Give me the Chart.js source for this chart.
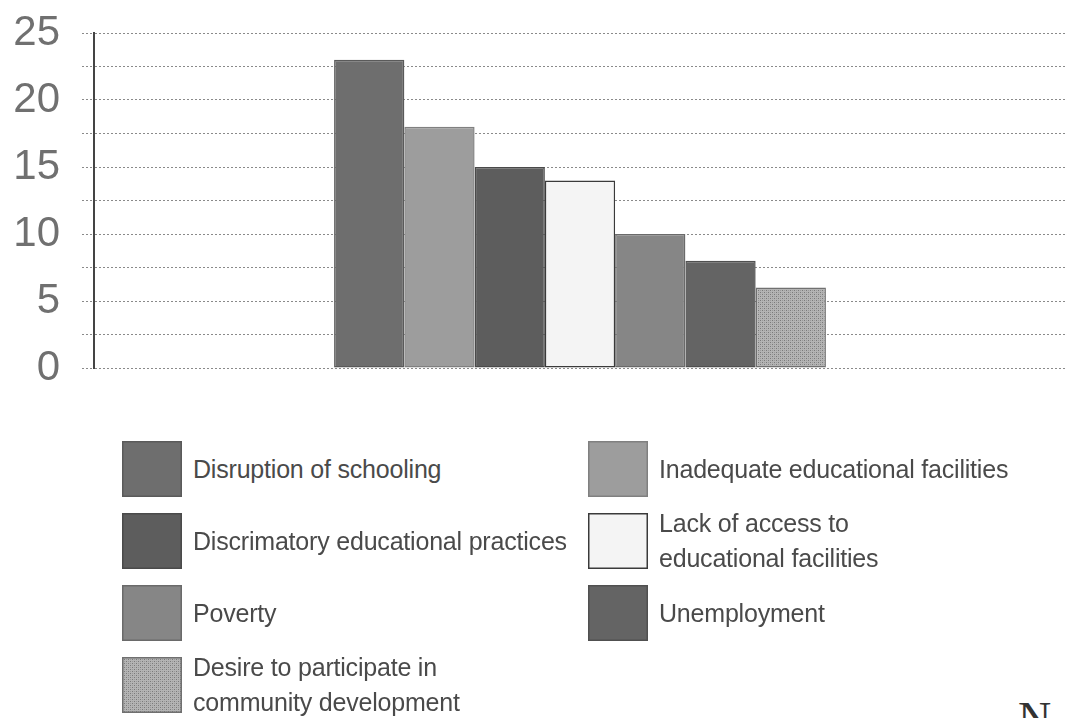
<!DOCTYPE html>
<html>
<head>
<meta charset="utf-8">
<script src="https://cdn.jsdelivr.net/npm/chart.js@4.4.1/dist/chart.umd.min.js"></script>
<style>
  html, body { margin: 0; padding: 0; background: #fff; }
  body { width: 1066px; height: 718px; overflow: hidden; position: relative; font-family: "Liberation Sans", Arial, sans-serif; }
  #wrap { position: absolute; left: 0; top: 0; width: 1066px; height: 400px; }
  #legend { position: absolute; left: 122px; top: 441px; display: grid; grid-template-columns: 466px 440px; grid-auto-rows: 72px; }
  .item { display: flex; align-items: center; height: 56px; }
  .item canvas { width: 60px; height: 56px; flex: none; }
  .item span { margin-left: 11px; font-size: 25px; line-height: 35px; color: #4a4a4a; white-space: pre; letter-spacing: -0.2px; }
  #corner { position: absolute; left: 1018px; top: 692px; font-family: "Liberation Serif", serif; font-size: 46px; color: #333; }
</style>
</head>
<body>
<div id="wrap"><canvas id="chart"></canvas></div>
<div id="legend"></div>
<div id="corner">N</div>
<script>
// Données
const categories = [
  'Disruption of schooling',
  'Inadequate educational facilities',
  'Discrimatory educational practices',
  'Lack of access to\neducational facilities',
  'Poverty',
  'Unemployment',
  'Desire to participate in\ncommunity development'
];
const valeurs = [23, 18, 15, 14, 10, 8, 6];
const couleurs = ['#6e6e6e', '#9d9d9d', '#5d5d5d', '#f4f4f4', '#868686', '#646464', 'pattern'];
const bordures = ['#5a5a5a', '#808080', '#4a4a4a', '#3a3a3a', '#6a6a6a', '#505050', '#707070'];
const tickStep = 2.5;

// Motif pointillé pour la dernière barre
function creerMotif() {
  const c = document.createElement('canvas');
  c.width = 4; c.height = 4;
  const g = c.getContext('2d');
  g.fillStyle = '#b4b4b4';
  g.fillRect(0, 0, 4, 4);
  g.fillStyle = '#7a7a7a';
  g.fillRect(0, 0, 1, 1);
  g.fillRect(2, 2, 1, 1);
  g.fillStyle = '#9a9a9a';
  g.fillRect(2, 0, 1, 1);
  g.fillRect(0, 2, 1, 1);
  return document.createElement('canvas').getContext('2d').createPattern(c, 'repeat');
}
const motif = creerMotif();
const fond = couleurs.map(c => c === 'pattern' ? motif : c);

const datasets = categories.map((nom, i) => ({
  label: nom,
  data: [valeurs[i]],
  backgroundColor: fond[i],
  borderColor: bordures[i],
  borderWidth: 1.5,
  borderSkipped: false,
  barPercentage: 1,
  categoryPercentage: 0.506
}));

new Chart(document.getElementById('chart'), {
  type: 'bar',
  data: { labels: [''], datasets: datasets },
  options: {
    responsive: true,
    maintainAspectRatio: false,
    animation: false,
    layout: { padding: { top: 33, right: 0, bottom: 32, left: 0 } },
    plugins: { legend: { display: false }, tooltip: { enabled: false } },
    scales: {
      x: { display: false },
      y: {
        min: 0,
        max: 25,
        afterFit: scale => {
          scale.width = 94;
          scale.paddingTop = 0;
          scale.paddingBottom = 0;
        },
        ticks: {
          stepSize: tickStep,
          autoSkip: false,
          padding: 22,
          color: '#707070',
          font: { family: '"Liberation Sans", Arial, sans-serif', size: 42 },
          callback: v => (v % 5 === 0 ? v : '')
        },
        grid: {
          color: '#8a8a8a',
          lineWidth: 1,
          tickLength: 12,
          borderDash: [2, 2],
          tickBorderDash: [2, 2],
          tickColor: '#8a8a8a'
        },
        border: { display: true, color: '#444', width: 2, dash: [2, 2] }
      }
    }
  }
});

// Légende en deux colonnes
const legende = document.getElementById('legend');
categories.forEach((nom, i) => {
  const div = document.createElement('div');
  div.className = 'item';
  const sw = document.createElement('canvas');
  sw.width = 60; sw.height = 56;
  const g = sw.getContext('2d');
  g.fillStyle = fond[i];
  g.fillRect(0, 0, 60, 56);
  g.strokeStyle = bordures[i];
  g.lineWidth = 1.5;
  g.strokeRect(0.75, 0.75, 58.5, 54.5);
  const txt = document.createElement('span');
  txt.textContent = nom;
  div.appendChild(sw);
  div.appendChild(txt);
  legende.appendChild(div);
});
</script>
</body>
</html>
